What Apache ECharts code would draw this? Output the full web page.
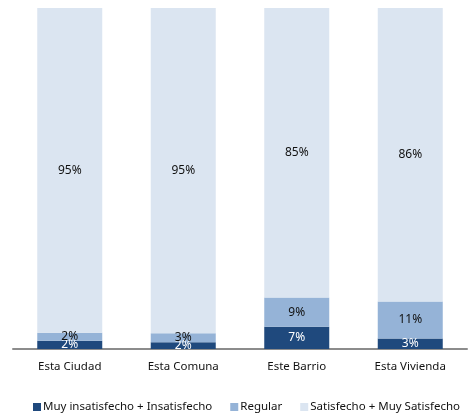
<!DOCTYPE html>
<html>
<head>
<meta charset="utf-8">
<script src="https://cdn.jsdelivr.net/npm/echarts@6/dist/echarts.min.js"></script>
<style>html,body{margin:0;padding:0;background:#fff}#c{width:469px;height:418px}</style>
</head>
<body>
<div id="c"></div>
<script>
const categories = ['Esta Ciudad', 'Esta Comuna', 'Este Barrio', 'Esta Vivienda'];
const seriesNames = ['Muy insatisfecho + Insatisfecho', 'Regular', 'Satisfecho + Muy Satisfecho'];
const insatisfecho = [2.4, 2.0, 6.5, 3.1];
const regular = [2.4, 2.6, 8.6, 10.8];
const satisfecho = [95.2, 95.4, 84.9, 86.1];

const FONT = 'Noto Sans';
const colors = ['#1F497D', '#95B3D7', '#DBE5F1'];
const labelColors = ['#ffffff', '#111111', '#111111'];
const dataSets = [insatisfecho, regular, satisfecho];

const chart = echarts.init(document.getElementById('c'), null, {renderer: 'canvas'});
chart.setOption({
  animation: false,
  textStyle: {fontFamily: FONT},
  grid: {left: 13, right: 2, top: 8, bottom: 69, containLabel: false},
  legend: {
    bottom: 0,
    left: 28,
    itemWidth: 8,
    itemHeight: 8,
    itemGap: 18,
    icon: 'rect',
    textStyle: {fontFamily: FONT, fontSize: 11.5, color: '#111111', padding: [0, 0, 0, -3]},
    data: seriesNames
  },
  xAxis: {
    type: 'category',
    data: categories,
    axisLine: {lineStyle: {color: '#8c8c8c', width: 2}},
    axisTick: {show: false},
    axisLabel: {fontFamily: FONT, fontSize: 11.5, color: '#111111', margin: 12}
  },
  yAxis: {
    type: 'value',
    min: 0,
    max: 100,
    show: false,
    splitLine: {show: false}
  },
  series: dataSets.map((d, i) => ({
    name: seriesNames[i],
    type: 'bar',
    stack: 'total',
    barWidth: 65,
    data: d,
    itemStyle: {color: colors[i]},
    label: {
      show: true,
      position: 'inside',
      fontFamily: FONT,
      fontSize: 12,
      color: labelColors[i],
      formatter: p => Math.round(p.value) + '%'
    }
  }))
});
</script>
</body>
</html>
